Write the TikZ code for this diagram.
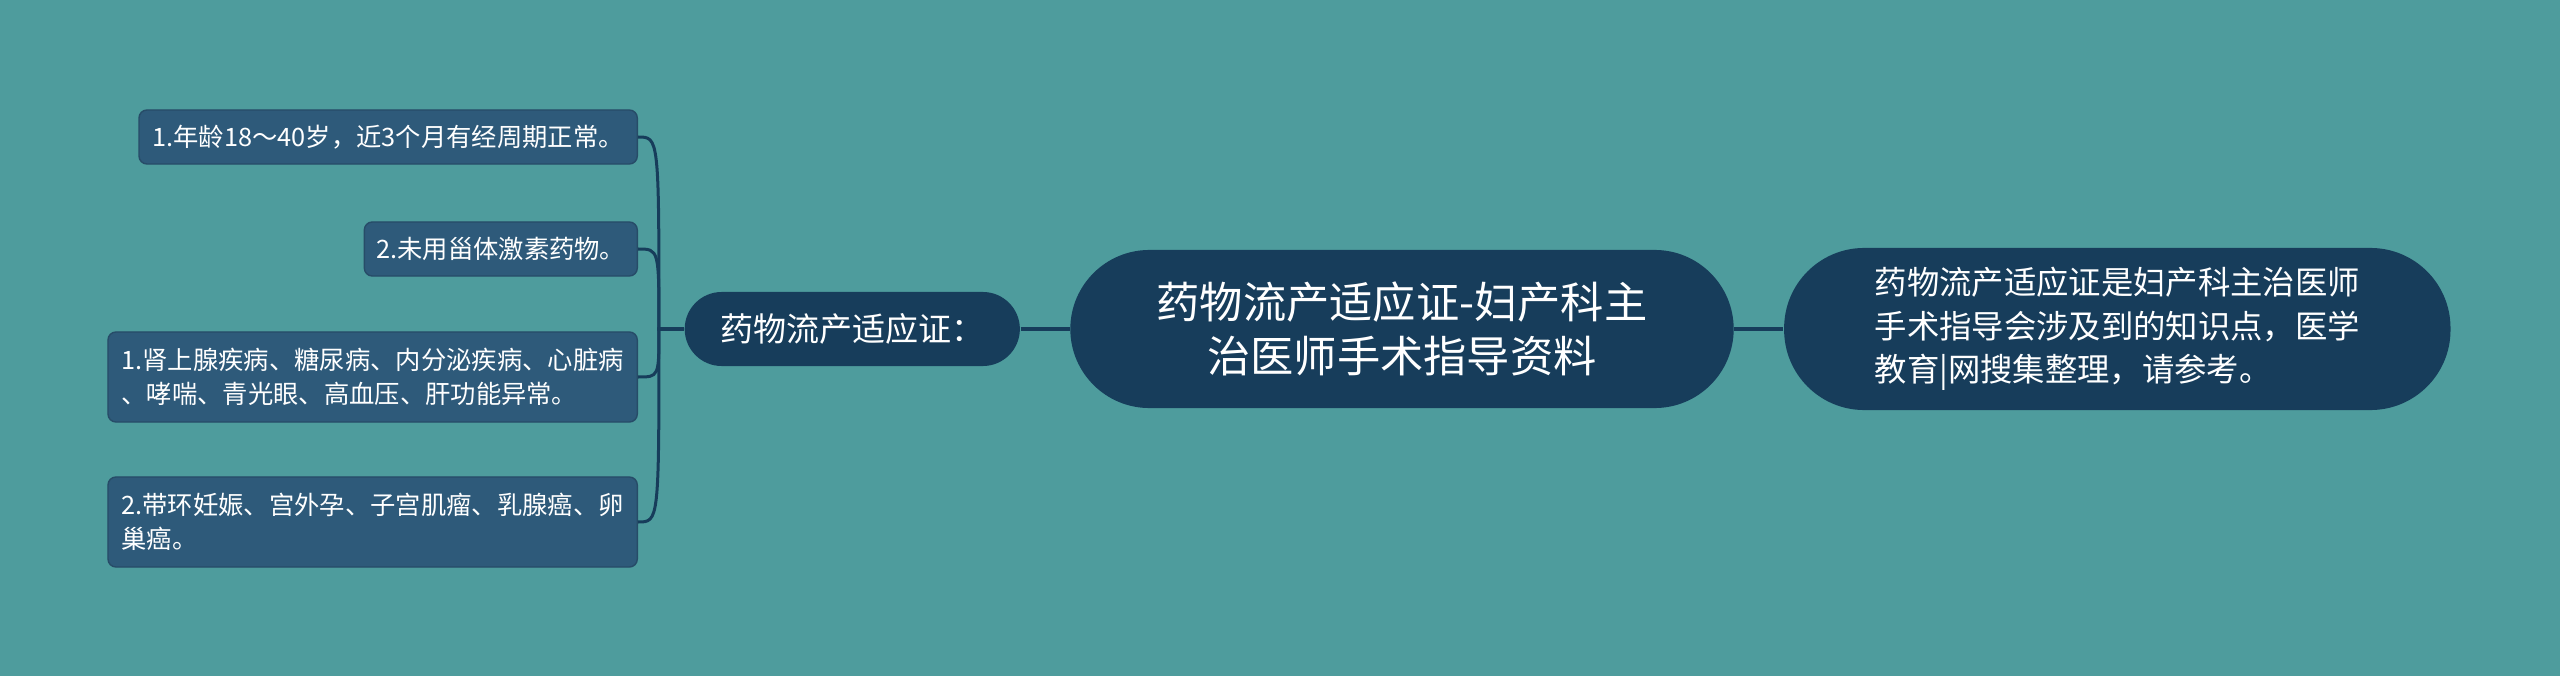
\documentclass[tikz,border=0pt]{standalone}
\usepackage{fontspec}
\setmainfont{Noto Sans CJK SC}
\usetikzlibrary{positioning}

\definecolor{bgteal}{HTML}{4E9C9D}
\definecolor{navy}{HTML}{173D5B}
\definecolor{leafblue}{HTML}{2E5A7A}
\definecolor{linkblue}{HTML}{173D5B}

\begin{document}
\begin{tikzpicture}[
  x=0.01cm, y=-0.01cm,
  node distance=0.49cm,
  root/.style={rectangle, fill=navy, text=white, rounded corners=0.79cm,
               minimum width=6.63cm, minimum height=1.58cm, align=center,
               font=\fontsize{12.3pt}{15.3pt}\selectfont},
  note/.style={rectangle, fill=navy, text=white, rounded corners=0.8cm,
               minimum width=6.66cm, minimum height=1.62cm, align=left,
               font=\fontsize{9.2pt}{12.3pt}\selectfont},
  topic/.style={rectangle, fill=navy, text=white, rounded corners=0.37cm,
                minimum width=3.35cm, minimum height=0.74cm,
                font=\fontsize{9.4pt}{11pt}\selectfont},
  leaf/.style={rectangle, fill=leafblue, draw=leafblue!85!black, line width=0.4pt,
               text=white, rounded corners=0.08cm, anchor=east, align=left,
               inner xsep=0.12cm, font=\fontsize{7.2pt}{9.6pt}\selectfont},
  link/.style={draw=linkblue, line width=0.03cm}
]

% ====== TŁO ======
\fill[bgteal] (0,0) rectangle (2560,676);
\useasboundingbox (0,0) rectangle (2560,676);

% ====== ŚRODEK ======
\node[root] (root) at (1402,329) {药物流产适应证-妇产科主\\治医师手术指导资料};
\node[note, right=of root] (note) {药物流产适应证是妇产科主治医师\\手术指导会涉及到的知识点，医学\\教育|网搜集整理，请参考。};
\node[topic, left=of root] (topic) {药物流产适应证：};

\draw[link] (root.east) -- (note.west);
\draw[link] (topic.east) -- (root.west);

% ====== LEWA STRONA (liście) ======
\node[leaf, minimum width=4.98cm, minimum height=0.54cm] (leafa) at (638,137) {1.年龄18～40岁，近3个月有经周期正常。};
\node[leaf, minimum width=2.72cm, minimum height=0.54cm] (leafb) at (638,249) {2.未用甾体激素药物。};
\node[leaf, minimum width=5.29cm, minimum height=0.90cm] (leafc) at (638,377) {1.肾上腺疾病、糖尿病、内分泌疾病、心脏病\\、哮喘、青光眼、高血压、肝功能异常。};
\node[leaf, minimum width=5.29cm, minimum height=0.90cm] (leafd) at (638,522) {2.带环妊娠、宫外孕、子宫肌瘤、乳腺癌、卵\\巢癌。};

% pień i łuki od tematu do liści
\coordinate[left=0.25cm of topic.west] (trunk);
\draw[link] (topic.west) -- (trunk) .. controls (trunk |- leafa.east) .. (leafa.east);
\draw[link] (topic.west) -- (trunk) .. controls (trunk |- leafb.east) .. (leafb.east);
\draw[link] (topic.west) -- (trunk) .. controls (trunk |- leafc.east) .. (leafc.east);
\draw[link] (topic.west) -- (trunk) .. controls (trunk |- leafd.east) .. (leafd.east);

\end{tikzpicture}
\end{document}
